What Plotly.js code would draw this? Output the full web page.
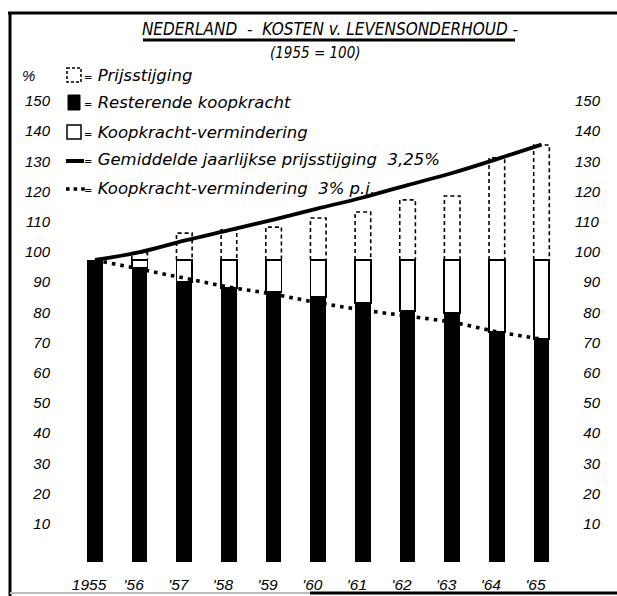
<!DOCTYPE html>
<html><head><meta charset="utf-8">
<script src="https://cdn.plot.ly/plotly-3.0.1.min.js"></script>
<style>html,body{margin:0;padding:0;background:#fff}#chart{width:617px;height:596px}</style>
</head><body><div id="chart"></div>
<script>
// ---- data ----
const years = [1955, 1956, 1957, 1958, 1959, 1960, 1961, 1962, 1963, 1964, 1965];
const yearLabels = ["1955", "'56", "'57", "'58", "'59", "'60", "'61", "'62", "'63", "'64", "'65"];
const resterendeKoopkracht = [100, 97.4, 92.7, 90.7, 89.4, 87.7, 85.8, 83.1, 82.5, 76.2, 73.8];
const koopkrachtVermindering = [null, 2.6, 7.3, 9.3, 10.6, 12.3, 14.2, 16.9, 17.5, 23.8, 26.2];
const prijsindex = [100, 102.3, 108.9, 110, 110.9, 113.9, 115.9, 119.9, 121.2, 133.8, 138.1];
const gemiddeldePrijsstijging = [100, 102.6, 106.4, 109.9, 113.4, 117.1, 120.7, 124.8, 128.8, 133.4, 138.2];
const vermindering3pj = [100, 97, 93.7, 91, 88.7, 85.8, 83.4, 81.5, 79.5, 76.2, 73.8];
const tickValues = [10, 20, 30, 40, 50, 60, 70, 80, 90, 100, 110, 120, 130, 140, 150];
const tickLabels = ["10", "20", "30", "40", "50", "60", "70", "80", "90", "100", "110", "120", "130", "140", "150"];
const legendLabels = ["Prijsstijging", "Resterende koopkracht", "Koopkracht-vermindering",
  "Gemiddelde jaarlijkse prijsstijging  3,25%", "Koopkracht-vermindering  3% p.j."];
const titleText = "NEDERLAND  -  KOSTEN v. LEVENSONDERHOUD -";
const subtitleText = "(1955 = 100)";

// ---- layout geometry ----
const W = 617, H = 596, L = 55, R = 45, T = 64, B = 34;
const pw = W - L - R, ph = H - T - B;
const px = x => (x - L) / pw;
const py = y => (H - B - y) / ph;
const FONT = "'DejaVu Sans Condensed', 'Liberation Sans Narrow', 'DejaVu Sans', sans-serif";
const TICKFONT = "'Liberation Sans', Arial, sans-serif";
const LEGFONT = "'DejaVu Sans', sans-serif";

const barW = 0.35, hw = barW / 2;
const dashX = [], dashY = [];
years.forEach((yr, i) => {
  if (prijsindex[i] > 100) {
    dashX.push(yr - hw, yr - hw, yr + hw, yr + hw, null);
    dashY.push(100, prijsindex[i], prijsindex[i], 100, null);
  }
});

const traces = [
  {type: 'bar', name: 'Resterende koopkracht', x: years, y: resterendeKoopkracht, width: barW,
   marker: {color: '#000', line: {width: 0}}, hoverinfo: 'skip'},
  {type: 'bar', name: 'Koopkracht-vermindering', x: years, y: koopkrachtVermindering, width: barW,
   marker: {color: '#fff', line: {color: '#000', width: 1.8}}, hoverinfo: 'skip'},
  {type: 'scatter', mode: 'lines', name: 'Prijsstijging', x: dashX, y: dashY,
   line: {color: '#000', width: 1.6, dash: '4px,3px'}, connectgaps: false, hoverinfo: 'skip'},
  {type: 'scatter', mode: 'lines', name: 'Gemiddelde jaarlijkse prijsstijging', x: years, y: gemiddeldePrijsstijging,
   yaxis: 'y2', line: {color: '#000', width: 3.8, shape: 'spline'}, hoverinfo: 'skip'},
  {type: 'scatter', mode: 'lines', name: 'Koopkracht-vermindering 3% p.j.', x: years, y: vermindering3pj,
   line: {color: '#000', width: 3.6, dash: '3.6px,5px'}, hoverinfo: 'skip'}
];

const rows = [75, 103, 132, 160, 188];
const shapes = [
  // frame
  {type: 'line', xref: 'paper', yref: 'paper', x0: px(8), x1: px(620), y0: py(13), y1: py(13), line: {color: '#000', width: 3}},
  {type: 'line', xref: 'paper', yref: 'paper', x0: px(10), x1: px(10), y0: py(13), y1: py(600), line: {color: '#000', width: 3}},
  {type: 'line', xref: 'paper', yref: 'paper', x0: px(10), x1: px(310), y0: py(593), y1: py(593), line: {color: '#bbb', width: 2}},
  {type: 'line', xref: 'paper', yref: 'paper', x0: px(310), x1: px(620), y0: py(593), y1: py(593), line: {color: '#000', width: 3}},
  // title underline
  {type: 'line', xref: 'paper', yref: 'paper', x0: px(143), x1: px(515), y0: py(40), y1: py(40), line: {color: '#000', width: 3}},
  // legend symbols
  {type: 'rect', xref: 'paper', yref: 'paper', x0: px(67), x1: px(81), y0: py(rows[0] - 7), y1: py(rows[0] + 7), line: {color: '#000', width: 1.5, dash: '3px,2px'}},
  {type: 'rect', xref: 'paper', yref: 'paper', x0: px(68), x1: px(80), y0: py(rows[1] - 8), y1: py(rows[1] + 7), fillcolor: '#000', line: {color: '#000', width: 1}},
  {type: 'rect', xref: 'paper', yref: 'paper', x0: px(67), x1: px(81), y0: py(rows[2] - 7), y1: py(rows[2] + 7), line: {color: '#000', width: 1.5}},
  {type: 'line', xref: 'paper', yref: 'paper', x0: px(66), x1: px(84), y0: py(rows[3] + 1), y1: py(rows[3] + 1), line: {color: '#000', width: 4}},
  {type: 'line', xref: 'paper', yref: 'paper', x0: px(66), x1: px(86), y0: py(rows[4] + 1), y1: py(rows[4] + 1), line: {color: '#000', width: 3.6, dash: '3.6px,4px'}}
];

const annotations = [
  {xref: 'paper', yref: 'paper', x: px(315), y: py(53), text: subtitleText, showarrow: false,
   xanchor: 'center', yanchor: 'middle', font: {family: FONT, size: 15, style: 'italic', color: '#000'}},
  {xref: 'paper', yref: 'paper', x: px(20), y: py(rows[0]), text: '%', showarrow: false,
   xanchor: 'left', yanchor: 'middle', font: {family: TICKFONT, size: 15, style: 'italic', color: '#000'}}
];
legendLabels.forEach((lab, i) => {
  annotations.push({xref: 'paper', yref: 'paper', x: px(82), y: py(rows[i]), showarrow: false,
    xanchor: 'left', yanchor: 'middle', text: "<span style='font-size:10px'>=</span> " + lab,
    font: {family: LEGFONT, size: 16.5, style: 'italic', color: '#000'}});
});

const yRange = [0, 164.9];
const layout = {
  width: W, height: H,
  margin: {l: L, r: R, t: T, b: B, pad: 0},
  paper_bgcolor: '#fff', plot_bgcolor: '#fff',
  showlegend: false, barmode: 'stack',
  title: {text: titleText, x: 330 / W, xanchor: 'center', xref: 'container',
          y: 1 - 29 / H, yanchor: 'middle', yref: 'container',
          font: {family: FONT, size: 17, style: 'italic', color: '#000'}},
  xaxis: {range: [1954.104, 1965.683], tickvals: years, ticktext: yearLabels, showgrid: false, zeroline: false,
          showline: false, ticks: '', ticklabelstandoff: 11, ticklabelshift: -6,
          tickfont: {family: TICKFONT, size: 15.5, style: 'italic', color: '#000'}},
  yaxis: {range: yRange, tickvals: tickValues, ticktext: tickLabels, showgrid: false, zeroline: false,
          showline: false, ticks: '', ticklabelstandoff: 4, ticklabelshift: -8,
          tickfont: {family: TICKFONT, size: 15, style: 'italic', color: '#000'}},
  yaxis2: {range: yRange, overlaying: 'y', side: 'right', tickvals: tickValues,
           ticktext: tickLabels.map(t => t.length < 3 ? '\u2007' + t : t),
           showgrid: false, zeroline: false, showline: false, ticks: '', ticklabelstandoff: 2, ticklabelshift: -8,
           tickfont: {family: TICKFONT, size: 15, style: 'italic', color: '#000'}},
  shapes: shapes,
  annotations: annotations
};

Plotly.newPlot('chart', traces, layout, {staticPlot: true, displayModeBar: false});
</script>
</body></html>
